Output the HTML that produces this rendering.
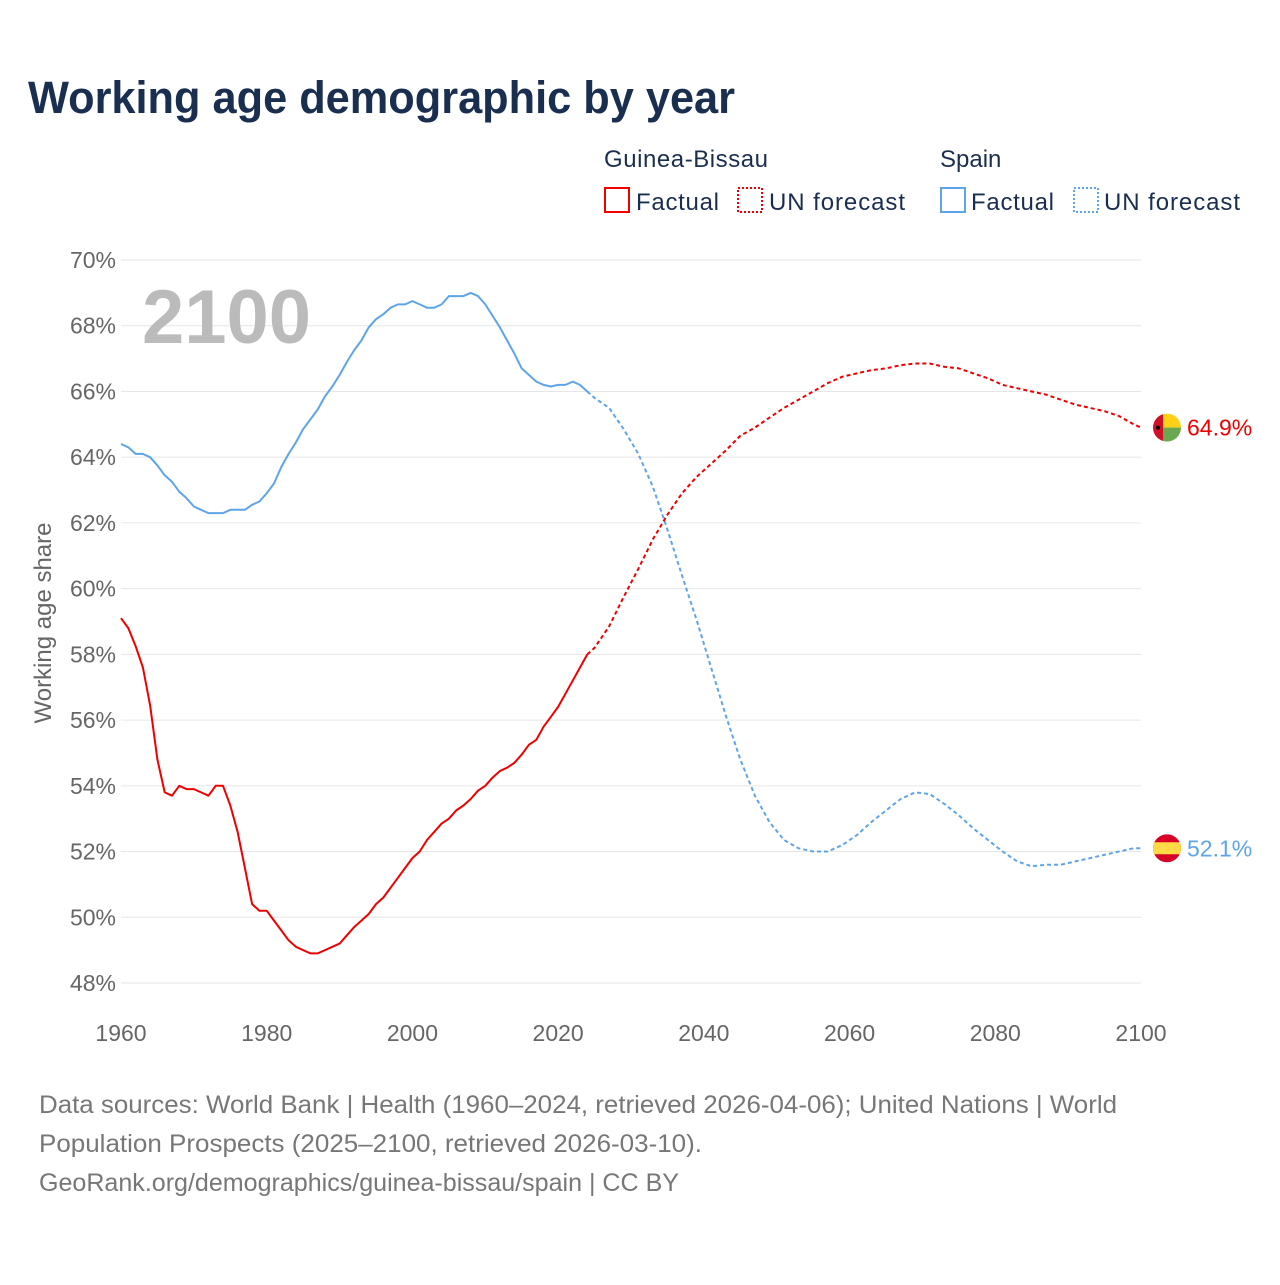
<!DOCTYPE html>
<html><head><meta charset="utf-8"><style>
body{margin:0;background:#fff;font-family:"Liberation Sans",sans-serif}
svg text{font-family:"Liberation Sans",sans-serif}
</style></head><body>
<svg id="chart" width="1280" height="1280" viewBox="0 0 1280 1280">
<rect width="1280" height="1280" fill="#fff"/>
<text x="28" y="113" font-size="45" font-weight="bold" fill="#1a2e4f" textLength="707" lengthAdjust="spacingAndGlyphs">Working age demographic by year</text>
<g font-size="24" fill="#1a2e4f">
<text x="604" y="167" fill="#1a2e4f" textLength="164">Guinea-Bissau</text>
<text x="940" y="167" fill="#1a2e4f">Spain</text>
<rect x="605" y="188" width="24" height="24" fill="none" stroke="#e00" stroke-width="2"/>
<text x="636" y="210" fill="#1a2e4f" textLength="83">Factual</text>
<rect x="738" y="188" width="24" height="24" fill="none" stroke="#e00" stroke-width="2" stroke-dasharray="2,2"/>
<text x="769" y="210" fill="#1a2e4f" textLength="136">UN forecast</text>
<rect x="941" y="188" width="24" height="24" fill="none" stroke="#5da5e8" stroke-width="2"/>
<text x="971" y="210" fill="#1a2e4f" textLength="83">Factual</text>
<rect x="1074" y="188" width="24" height="24" fill="none" stroke="#5da5e8" stroke-width="2" stroke-dasharray="2,2"/>
<text x="1104" y="210" fill="#1a2e4f" textLength="136">UN forecast</text>
</g>
<g id="grid"></g>
<text x="142" y="343" font-size="76" font-weight="bold" fill="#bbb">2100</text>
<text transform="translate(51,623) rotate(-90)" text-anchor="middle" font-size="24" fill="#666">Working age share</text>
<g id="series"></g>
<g font-size="25" fill="#777">
<text x="39" y="1113" textLength="1078" lengthAdjust="spacingAndGlyphs">Data sources: World Bank | Health (1960–2024, retrieved 2026-04-06); United Nations | World</text>
<text x="39" y="1152" textLength="663" lengthAdjust="spacingAndGlyphs">Population Prospects (2025–2100, retrieved 2026-03-10).</text>
<text x="39" y="1191" textLength="640" lengthAdjust="spacingAndGlyphs">GeoRank.org/demographics/guinea-bissau/spain | CC BY</text>
</g>
</svg>
<script>
const yTicks=[48,50,52,54,56,58,60,62,64,66,68,70];
const xTicks=[1960,1980,2000,2020,2040,2060,2080,2100];
const factYears=[];for(let y=1960;y<=2024;y++)factYears.push(y);
const fcYears=[2024,2025,2027,2029,2031,2033,2035,2037,2039,2041,2043,2045,2047,2049,2051,2053,2055,2057,2059,2061,2063,2065,2067,2069,2071,2073,2075,2077,2079,2081,2083,2085,2087,2089,2091,2093,2095,2097,2099,2100];
const esFact=[64.4,64.3,64.1,64.1,64.0,63.75,63.45,63.25,62.95,62.75,62.5,62.4,62.3,62.3,62.3,62.4,62.4,62.4,62.55,62.65,62.9,63.2,63.7,64.1,64.45,64.85,65.15,65.45,65.85,66.15,66.5,66.9,67.25,67.55,67.95,68.2,68.35,68.55,68.65,68.65,68.75,68.65,68.55,68.55,68.65,68.9,68.9,68.9,69.0,68.9,68.65,68.3,67.95,67.55,67.15,66.7,66.5,66.3,66.2,66.15,66.2,66.2,66.3,66.2,66.0];
const esFc=[66.0,65.8,65.5,64.85,64.1,63.1,61.8,60.4,59.05,57.6,56.15,54.8,53.7,52.9,52.35,52.1,52.0,52.0,52.2,52.5,52.9,53.25,53.6,53.8,53.75,53.45,53.1,52.7,52.35,52.0,51.7,51.55,51.6,51.6,51.7,51.8,51.9,52.0,52.1,52.1];
const gbFact=[59.1,58.8,58.25,57.6,56.45,54.8,53.8,53.7,54.0,53.9,53.9,53.8,53.7,54.0,54.0,53.4,52.6,51.5,50.4,50.2,50.2,49.9,49.6,49.3,49.1,49.0,48.9,48.9,49.0,49.1,49.2,49.45,49.7,49.9,50.1,50.4,50.6,50.9,51.2,51.5,51.8,52.0,52.35,52.6,52.85,53.0,53.25,53.4,53.6,53.85,54.0,54.25,54.45,54.55,54.7,54.95,55.25,55.4,55.8,56.1,56.4,56.8,57.2,57.6,58.0];
const gbFc=[58.0,58.2,58.85,59.75,60.6,61.5,62.25,62.9,63.4,63.8,64.2,64.65,64.9,65.2,65.5,65.75,66.0,66.25,66.45,66.55,66.65,66.7,66.8,66.85,66.85,66.75,66.7,66.55,66.4,66.2,66.1,66.0,65.9,65.75,65.6,65.5,65.4,65.25,65.0,64.9];
const NS='http://www.w3.org/2000/svg';
const X=v=>121+(v-1960)*(1141-121)/140;
const Y=v=>983-(v-48)*(983-260)/22;
function mk(tag,attrs,parent){const e=document.createElementNS(NS,tag);for(const k in attrs)e.setAttribute(k,attrs[k]);parent.appendChild(e);return e;}
const grid=document.getElementById('grid');
yTicks.forEach(t=>{
 const l=mk('line',{x1:121,x2:1141,y1:Y(t),y2:Y(t),stroke:'#e6e6e6','stroke-width':1},grid);
 
 
 const tx=mk('text',{x:116,y:Y(t)+8,'text-anchor':'end','font-size':23,fill:'#666'},grid);
 tx.textContent=t+'%';
 
 
});
xTicks.forEach(t=>{
 const tx=mk('text',{x:X(t),y:1041,'text-anchor':'middle','font-size':23,fill:'#666'},grid);
 tx.textContent=t;
 
 
});
const sg=document.getElementById('series');
function line(xs,ys,color,dash,name){
 const d=xs.map((x,i)=>(i?'L':'M')+X(x).toFixed(1)+','+Y(ys[i]).toFixed(1)).join('');
 const p=mk('path',{d:d,fill:'none',stroke:color,'stroke-width':2,'stroke-dasharray':dash||'none','stroke-linejoin':'round'},sg);
 
 
}
line(factYears,esFact,'#5da5e8',null,'spain-factual-line');
line(fcYears,esFc,'#5da5e8','4,3','spain-forecast-line');
line(factYears,gbFact,'#e00',null,'guinea-bissau-factual-line');
line(fcYears,gbFc,'#e00','4,3','guinea-bissau-forecast-line');
const gbLast=gbFc[gbFc.length-1], esLast=esFc[esFc.length-1];
const gy=Y(gbLast), ey=Y(esLast), fx=1167;
const g1=mk('g',{},sg);


const cl1=mk('clipPath',{id:'c1'},g1);mk('circle',{cx:fx,cy:gy,r:14},cl1);
const gg=mk('g',{'clip-path':'url(#c1)'},g1);
mk('rect',{x:fx-14,y:gy-14,width:10,height:28,fill:'#ce1126'},gg);
mk('rect',{x:fx-4,y:gy-14,width:18,height:14,fill:'#fcd116'},gg);
mk('rect',{x:fx-4,y:gy,width:18,height:14,fill:'#6aa84f'},gg);
mk('circle',{cx:fx-9,cy:gy,r:2,fill:'#000'},gg);
const g2=mk('g',{},sg);


const cl2=mk('clipPath',{id:'c2'},g2);mk('circle',{cx:fx,cy:ey,r:14},cl2);
const eg=mk('g',{'clip-path':'url(#c2)'},g2);
mk('rect',{x:fx-14,y:ey-14,width:28,height:28,fill:'#d80027'},eg);
mk('rect',{x:fx-14,y:ey-6,width:28,height:12,fill:'#ffda44'},eg);
const t1=mk('text',{x:1187,y:gy+8,'font-size':23,fill:'#e00'},sg);
t1.textContent=gbLast.toFixed(1)+'%';


const t2=mk('text',{x:1187,y:ey+8,'font-size':23,fill:'#5da5e8'},sg);
t2.textContent=esLast.toFixed(1)+'%';


</script>
</body></html>
